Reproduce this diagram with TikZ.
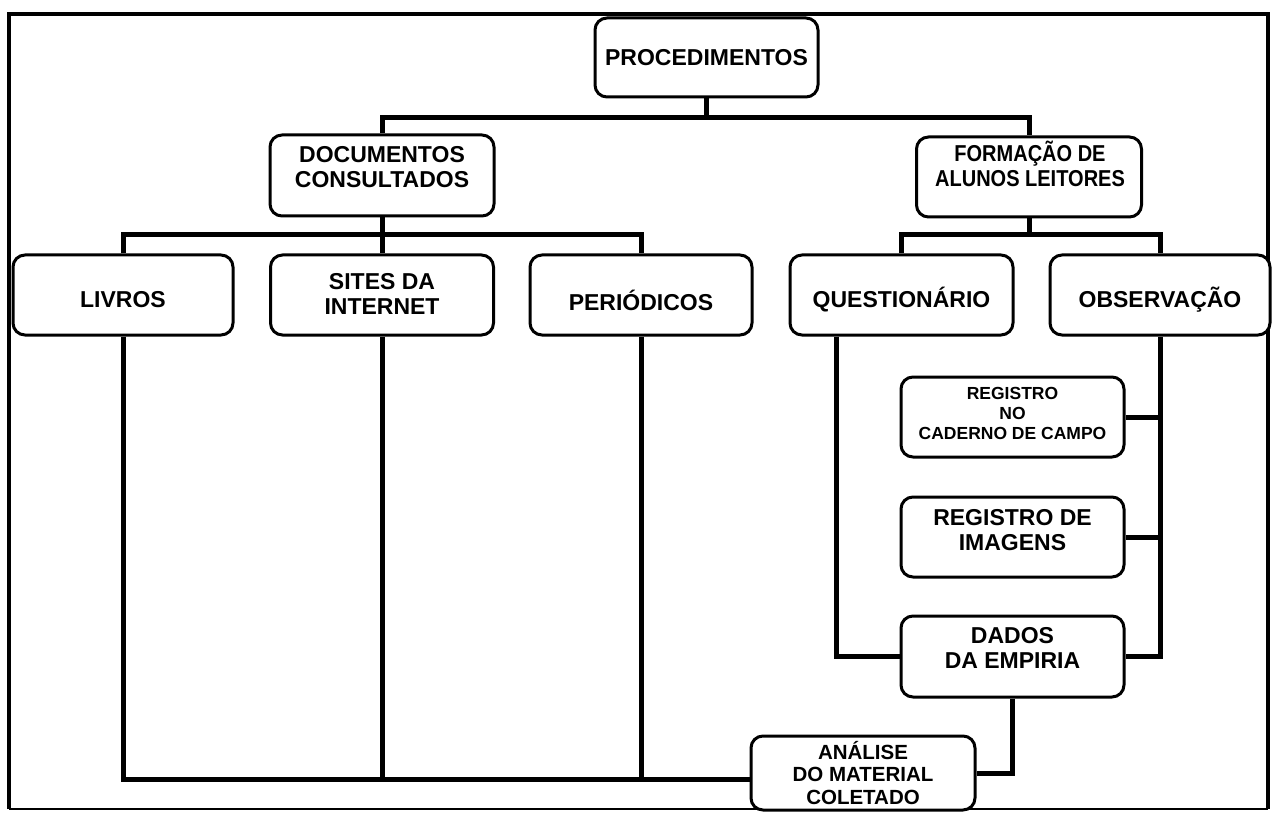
\documentclass[tikz,border=0pt]{standalone}
\usepackage{fontspec}
\setmainfont{Liberation Sans}
\newfontfamily\narrowsans[FakeStretch=0.87]{Liberation Sans}
\begin{document}
\begin{tikzpicture}[x=1pt,y=-1pt,
  box/.style={draw, line width=3pt, rounded corners=12pt, fill=white, minimum height=80pt, inner sep=0pt},
  txt/.style={font=\bfseries\fontsize{23}{25}\selectfont, align=center, inner sep=0pt},
  narrowtxt/.style={font=\narrowsans\bfseries\fontsize{23}{25}\selectfont, align=center, inner sep=0pt},
  smalltxt/.style={font=\bfseries\fontsize{17.5}{20}\selectfont, align=center, inner sep=0pt},
  midtxt/.style={font=\bfseries\fontsize{20.5}{22.5}\selectfont, align=center, inner sep=0pt},
  conn/.style={line width=5pt},
  frame/.style={line width=4pt}]
\useasboundingbox (0,0) rectangle (1275,813);
% frame
\draw[frame] (9,809) -- (9,14) -- (1268,14) -- (1268,809);
\draw[line width=1.5pt] (9,809) -- (1268,809);

% boxes
\node[box, minimum width=223pt, minimum height=79pt] (proc) at (706.5,57.5) {};
\node[box, minimum width=224pt, minimum height=81pt] (doc) at (382,175.5) {};
\node[box, minimum width=225pt] (form) at (1029,177) {};
\node[box, minimum width=220pt] (livros) at (123,295) {};
\node[box, minimum width=223pt] (sites) at (382,295) {};
\node[box, minimum width=222pt] (peri) at (641,295) {};
\node[box, minimum width=223pt] (quest) at (901.5,295) {};
\node[box, minimum width=220pt] (obs) at (1160,295) {};
\node[box, minimum width=223pt] (reg1) at (1012.5,417) {};
\node[box, minimum width=223pt] (reg2) at (1012.5,537) {};
\node[box, minimum width=223pt, minimum height=81pt] (dados) at (1012.5,656.5) {};
\node[box, minimum width=224pt, minimum height=74pt] (analise) at (863,773) {};

% texts
\node[txt] (procT) at (706.5,58) {PROCEDIMENTOS};
\node[txt] (docT) at (382,167) {DOCUMENTOS\\CONSULTADOS};
\node[narrowtxt] (formT) at (1030,164) {FORMAÇÃO DE\\ALUNOS LEITORES};
\node[txt] (livT) at (123,300) {LIVROS};
\node[txt] (sitesT) at (382,294) {SITES DA\\INTERNET};
\node[txt] (periT) at (641,300) {PERIÓDICOS};
\node[txt] (questT) at (901.5,300) {QUESTIONÁRIO};
\node[txt] (obsT) at (1160,300) {OBSERVAÇÃO};
\node[smalltxt] (reg1T) at (1012.5,413) {REGISTRO\\NO\\CADERNO DE CAMPO};
\node[txt] (reg2T) at (1012.5,530) {REGISTRO DE\\IMAGENS};
\node[txt] (dadosT) at (1012.5,648) {DADOS\\DA EMPIRIA};
\node[midtxt] (analiseT) at (863,773) {ANÁLISE\\DO MATERIAL\\COLETADO};

% connectors
\coordinate (j1) at (706.5,118);
\draw[conn] (proc.south) -- (j1);
\draw[conn] (doc.north) |- (j1) -| (form.north);
\coordinate (j2) at (382,235);
\draw[conn] (doc.south) -- (j2);
\draw[conn] (livros.north) |- (j2) -| (peri.north);
\draw[conn] (sites.north) -- (sites.north |- j2);
\coordinate (j3) at (1031,235);
\draw[conn] (form.south) -- (form.south |- j3);
\draw[conn] (quest.north) |- (j3) -| (obs.north);
\draw[conn] ([xshift=-65.5pt]quest.south) |- (dados.west);
\draw[conn] (obs.south) |- (dados.east);
\draw[conn] (reg1.east) -- (reg1.east -| obs.south);
\draw[conn] (reg2.east) -- (reg2.east -| obs.south);
\draw[conn] (dados.south) |- (analise.east);
\coordinate (aw) at ([yshift=-6pt]analise.west);
\draw[conn] (livros.south) |- (aw);
\draw[conn] (sites.south) -- (sites.south |- aw);
\draw[conn] (peri.south) -- (peri.south |- aw);
\end{tikzpicture}
\end{document}
